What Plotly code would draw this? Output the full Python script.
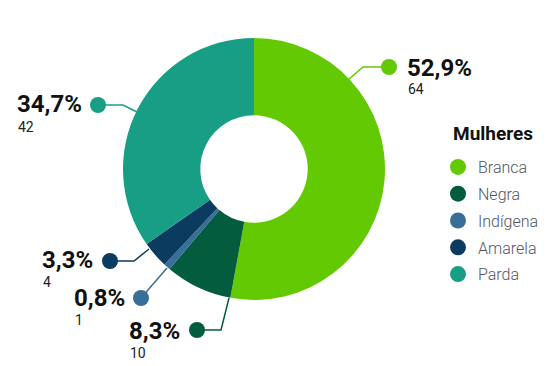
import plotly.graph_objects as go

# ---- data ----
categories = ["Branca", "Negra", "Indígena", "Amarela", "Parda"]
counts = [64, 10, 1, 4, 42]
pct_labels = ["52,9%", "8,3%", "0,8%", "3,3%", "34,7%"]
colors = ["#63c903", "#035c3e", "#386f98", "#0b3c60", "#199e86"]
legend_title = "Mulheres"

# page body has an 8px margin: size the figure so it fits the 555x366 window
OFF = 8
W, H = 555 - OFF, 366 - OFF

# ---- label layout (window pixel positions, decoration only) ----
label_layout = {
    "Branca":   dict(dot=(389, 67),  path=[(363, 67), (348, 80)],  tx=405, py=68,  cy=89),
    "Negra":    dict(dot=(197, 330), path=[(221, 330), (229, 298)], tx=127, py=331, cy=353),
    "Indígena": dict(dot=(141, 298), path=[(167, 268)],            tx=72,  py=298, cy=320),
    "Amarela":  dict(dot=(110, 261), path=[(134, 261), (149, 249)], tx=40,  py=260, cy=282),
    "Parda":    dict(dot=(98, 105),  path=[(123, 105), (137, 112)], tx=15,  py=104, cy=127),
}

def px(x):
    return (x - OFF) / W

def py_(y):
    return 1 - (y - OFF) / H

cx, cy, r = 254, 169, 131

fig = go.Figure()
fig.add_trace(go.Pie(
    labels=categories, values=counts, sort=False, direction="clockwise", rotation=0,
    hole=0.41, marker=dict(colors=colors, line=dict(width=0)), textinfo="none",
    showlegend=False, hoverinfo="label+value+percent",
    domain=dict(x=[px(cx - r), px(cx + r)], y=[py_(cy + r), py_(cy - r)]),
))

# legend via marker-only traces (circular symbols)
for cat, col in zip(categories, colors):
    fig.add_trace(go.Scatter(
        x=[None], y=[None], mode="markers", name=cat, legendgroup=cat,
        marker=dict(size=16, color=col), showlegend=True,
    ))

shapes = []
annotations = []
for cat, col, pct, n in zip(categories, colors, pct_labels, counts):
    L = label_layout[cat]
    pts = [L["dot"]] + L["path"]
    d = "M " + " L ".join(f"{px(x)} {py_(y)}" for x, y in pts)
    shapes.append(dict(type="path", path=d, xref="paper", yref="paper",
                       line=dict(color=col, width=1.5)))
    dx, dy = L["dot"]
    shapes.append(dict(type="circle", xref="paper", yref="paper",
                       x0=px(dx - 8), x1=px(dx + 8), y0=py_(dy + 8), y1=py_(dy - 8),
                       fillcolor=col, line=dict(width=0)))
    annotations.append(dict(text=f"<b>{pct}</b>", x=px(L["tx"]), y=py_(L["py"]),
                            xref="paper", yref="paper", xanchor="left", yanchor="middle",
                            showarrow=False, font=dict(family="Roboto", size=24, color="#111111")))
    annotations.append(dict(text=str(n), x=px(L["tx"] + 1), y=py_(L["cy"]),
                            xref="paper", yref="paper", xanchor="left", yanchor="middle",
                            showarrow=False, font=dict(family="Roboto", size=14, color="#222222")))

annotations.append(dict(text=f"<b>{legend_title}</b>", x=px(451), y=py_(133),
                        xref="paper", yref="paper", xanchor="left", yanchor="middle",
                        showarrow=False, font=dict(family="Roboto", size=19, color="#111111")))

fig.update_layout(
    width=W, height=H, margin=dict(l=0, r=0, t=0, b=0),
    paper_bgcolor="white", plot_bgcolor="white",
    xaxis=dict(visible=False), yaxis=dict(visible=False),
    shapes=shapes, annotations=annotations,
    legend=dict(
        font=dict(family="Roboto", size=16, color="#55555f", weight=300),
        x=px(438), y=py_(150), xanchor="left", yanchor="top",
        tracegroupgap=3, itemsizing="trace", itemwidth=30, bgcolor="rgba(0,0,0,0)",
    ),
)

fig.write_html("out.html")
